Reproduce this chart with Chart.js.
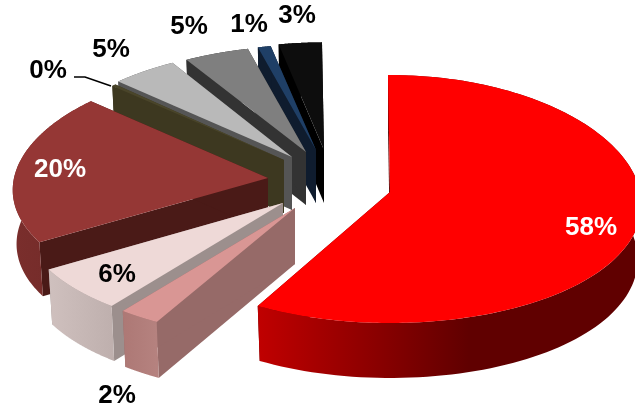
<!DOCTYPE html>
<html>
<head>
<meta charset="utf-8">
<style>
html,body{margin:0;padding:0;background:#fff;overflow:hidden}
canvas{display:block}
</style>
<script src="https://cdn.jsdelivr.net/npm/chart.js@4"></script>
</head>
<body>
<canvas id="c" width="635" height="410"></canvas>
<script>
// ---- data ----
const categories = ['A','B','C','D','E','F','G','H','I'];
const values = [58.15, 2.35, 5.9, 20.4, 0.3, 4.5, 4.5, 0.9, 3];

// ---- styles ----
const faceColors = ['#ff0000','#d99694','#eed9d7','#953735','#4a452a','#b9b9b9','#7f7f7f','#1f3f66','#0d0d0d'];
const radialWallColors = ['#5a0000','#966a68','#9c8f8d','#4a1a17','#3d3820','#555555','#333333','#0f1c2e','#000000'];
const outerWallFrom = ['#c00000','#ad7875','#cfc0be','#7a2e2c','#3d3820','#555555','#333333','#0f1c2e','#000000'];
const outerWallTo = ['#600000','#b5827f','#bfb0ae','#702a28','#3d3820','#555555','#333333','#0f1c2e','#000000'];
const wallSpan = [0.55,1,1,1,1,1,1,1,1];
const labelColors = ['#ffffff','#000000','#000000','#ffffff','#000000','#000000','#000000','#000000','#000000'];

// ---- 3D view of the exploded pie ----
const pieCentre = [340, 180];
const explodeX = [50, -45, -57, -72, -56, -48, -34, -24, -16];
const explodeY = [12, 28, 23, -2, -20, -23, -28, -30, -30];
const radiusX = 254, radiusY = 123.6, perspX = 0.1, perspY = 0.0565, bottomShrink = 0.985;
const depths = [55, 56, 55, 54, 53, 53, 53, 53, 53];
const scaleX = [0.985, 1.03, 1.025, 1, 0.97, 1, 1, 1, 1];
const scaleY = [1, 1, 1, 0.965, 0.93, 0.93, 0.91, 0.905, 0.92];
const drawOrder = [8, 7, 6, 5, 4, 3, 2, 1, 0];

// ---- label placement ----
const labelX = [591, 117, 117, 60, 48, 111, 189, 249, 297];
const labelY = [228, 396, 275, 170, 71, 50, 27, 25, 16];
const leaderX = [74, 85, 111];
const leaderY = [77, 77, 86];

function mapper(el, i) {
  const R = el.outerRadius, tx = pieCentre[0] + explodeX[i], ty = pieCentre[1] + explodeY[i];
  return (x, y) => {
    const U = (x - el.x) / R, V = (y - el.y) / R;
    return [tx + radiusX * scaleX[i] * U / (1 - perspX * V),
            ty + radiusY * scaleY[i] * V / (1 - perspY * V)];
  };
}

function rimPoints(el, map) {
  const pts = [], n = 120;
  for (let k = 0; k <= n; k++) {
    const a = el.startAngle + (el.endAngle - el.startAngle) * k / n;
    pts.push(map(el.x + el.outerRadius * Math.cos(a), el.y + el.outerRadius * Math.sin(a)));
  }
  return pts;
}

function fillPoly(ctx, pts, style) {
  ctx.beginPath();
  pts.forEach((p, k) => k ? ctx.lineTo(p[0], p[1]) : ctx.moveTo(p[0], p[1]));
  ctx.closePath();
  ctx.fillStyle = style;
  ctx.fill();
}

function drawWalls(ctx, el, i, map) {
  const rim = rimPoints(el, map);
  const tip = map(el.x, el.y);
  const down = p => [tip[0] + (p[0] - tip[0]) * bottomShrink, p[1] + depths[i]];
  const first = rim[0], last = rim[rim.length - 1];
  fillPoly(ctx, [tip, first, down(first), down(tip)], radialWallColors[i]);
  fillPoly(ctx, [tip, last, down(last), down(tip)], radialWallColors[i]);
  const xs = rim.map(p => p[0]);
  const minX = Math.min(...xs), maxX = Math.max(...xs);
  const g = ctx.createLinearGradient(minX, 0, minX + Math.max(1, maxX - minX) * wallSpan[i], 0);
  g.addColorStop(0, outerWallFrom[i]);
  g.addColorStop(1, outerWallTo[i]);
  fillPoly(ctx, rim.concat(rim.slice().reverse().map(down)), g);
}

function drawFace(ctx, el, map) {
  const proto = CanvasRenderingContext2D.prototype;
  ctx.lineTo = (x, y) => proto.lineTo.apply(ctx, map(x, y));
  ctx.moveTo = (x, y) => proto.moveTo.apply(ctx, map(x, y));
  ctx.arc = (x, y, r, a0, a1) => {
    if (!(r > 0) || !isFinite(a0) || !isFinite(a1)) { proto.lineTo.apply(ctx, map(x, y)); return; }
    const n = 120;
    for (let k = 0; k <= n; k++) {
      const a = a0 + (a1 - a0) * k / n;
      proto.lineTo.apply(ctx, map(x + r * Math.cos(a), y + r * Math.sin(a)));
    }
  };
  el.draw(ctx);
  delete ctx.lineTo; delete ctx.moveTo; delete ctx.arc;
}

const pie3d = {
  id: 'pie3d',
  beforeDatasetDraw(chart) {
    const ctx = chart.ctx, arcs = chart.getDatasetMeta(0).data;
    drawOrder.forEach(i => {
      const el = arcs[i], map = mapper(el, i);
      ctx.save();
      drawWalls(ctx, el, i, map);
      drawFace(ctx, el, map);
      ctx.restore();
    });
    return false;
  },
  afterDraw(chart) {
    const ctx = chart.ctx;
    ctx.save();
    ctx.strokeStyle = '#000';
    ctx.lineWidth = 1.6;
    ctx.beginPath();
    leaderX.forEach((x, k) => k ? ctx.lineTo(x, leaderY[k]) : ctx.moveTo(x, leaderY[k]));
    ctx.stroke();
    ctx.font = 'bold 26px "Liberation Sans", Arial, sans-serif';
    ctx.textAlign = 'center';
    ctx.textBaseline = 'middle';
    values.forEach((v, i) => {
      ctx.fillStyle = labelColors[i];
      ctx.fillText(Math.round(v) + '%', labelX[i], labelY[i]);
    });
    ctx.restore();
  }
};

new Chart(document.getElementById('c'), {
  type: 'pie',
  data: {
    labels: categories,
    datasets: [{ data: values, backgroundColor: faceColors, borderWidth: 0 }]
  },
  options: {
    responsive: false,
    animation: false,
    rotation: -0.5,
    layout: { padding: 0 },
    plugins: { legend: { display: false }, tooltip: { enabled: false } }
  },
  plugins: [pie3d]
});
</script>
</body>
</html>
